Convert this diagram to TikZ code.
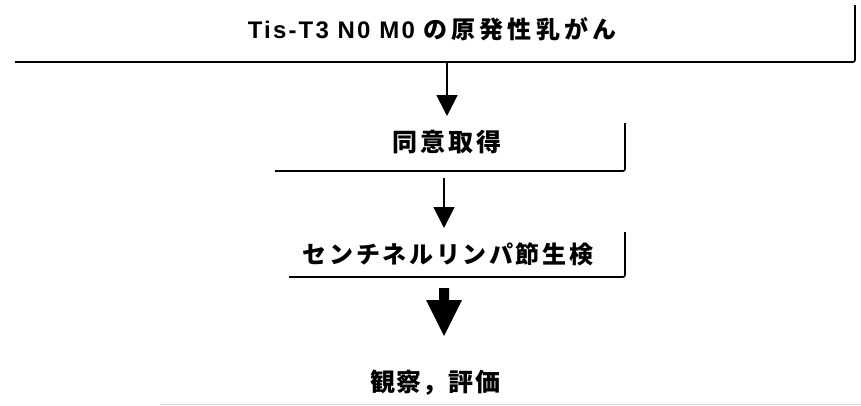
\documentclass[tikz,border=0pt]{standalone}
\usepackage{fontspec}
\setmainfont{Liberation Sans}
\newfontfamily\jp{Noto Sans CJK JP}
\usetikzlibrary{arrows.meta}
\begin{document}
\begin{tikzpicture}[x=1pt,y=-1pt,
  lbl/.style={anchor=base, inner sep=0pt},
  boxline/.style={line width=1.6pt, black},
  thinarrow/.style={line width=1.8pt, -{Triangle[width=21pt,length=21pt]}},
  bigarrow/.style={fill=black, draw=none}]
\useasboundingbox (0,0) rectangle (861,405);
% texts
\node[lbl] (t1) at (432,38) {\bfseries\fontsize{24}{24}\selectfont\addfontfeature{LetterSpace=9}Tis-T3 N0 M0 {\jp\addfontfeature{LetterSpace=17}の原発性乳がん}};
\node[lbl] (t2) at (447,151) {\jp\bfseries\fontsize{25}{25}\selectfont\addfontfeature{LetterSpace=12}同意取得};
\node[lbl] (t3) at (448,263) {\jp\bfseries\fontsize{24}{24}\selectfont\addfontfeature{LetterSpace=11}センチネルリンパ節生検};
\node[lbl] (t4) at (435,391) {\jp\bfseries\fontsize{25}{25}\selectfont\addfontfeature{LetterSpace=5}観察，評価};
% box 1
\coordinate (b1l) at (15,62);
\coordinate (b1c) at (855,62);
\coordinate (b1t) at (855,5);
\draw[boxline, rounded corners=2pt] (b1l) -- (b1c) -- (b1t);
% box 2
\coordinate (b2l) at (275,171);
\coordinate (b2c) at (625,171);
\coordinate (b2t) at (625,123);
\draw[boxline, rounded corners=2pt] (b2l) -- (b2c) -- (b2t);
% box 3
\coordinate (b3l) at (289,277);
\coordinate (b3c) at (625,277);
\coordinate (b3t) at (625,232);
\draw[boxline, rounded corners=2pt] (b3l) -- (b3c) -- (b3t);
% arrows
\coordinate (a1s) at (447,63);
\coordinate (a1e) at (447,116);
\draw[thinarrow] (a1s) -- (a1e);
\coordinate (a2s) at (444,178);
\coordinate (a2e) at (444,228);
\draw[thinarrow] (a2s) -- (a2e);
\coordinate (a3) at (444,288);
\fill[bigarrow] (a3) ++(-5,0) -- ++(10,0) -- ++(0,12) -- ++(13,0) -- ++(-18,36) -- ++(-18,-36) -- ++(13,0) -- cycle;
% faint scan line
\coordinate (fl) at (160,404);
\coordinate (fr) at (861,404);
\draw[black!15, line width=1pt] (fl) -- (fr);
\end{tikzpicture}
\end{document}
